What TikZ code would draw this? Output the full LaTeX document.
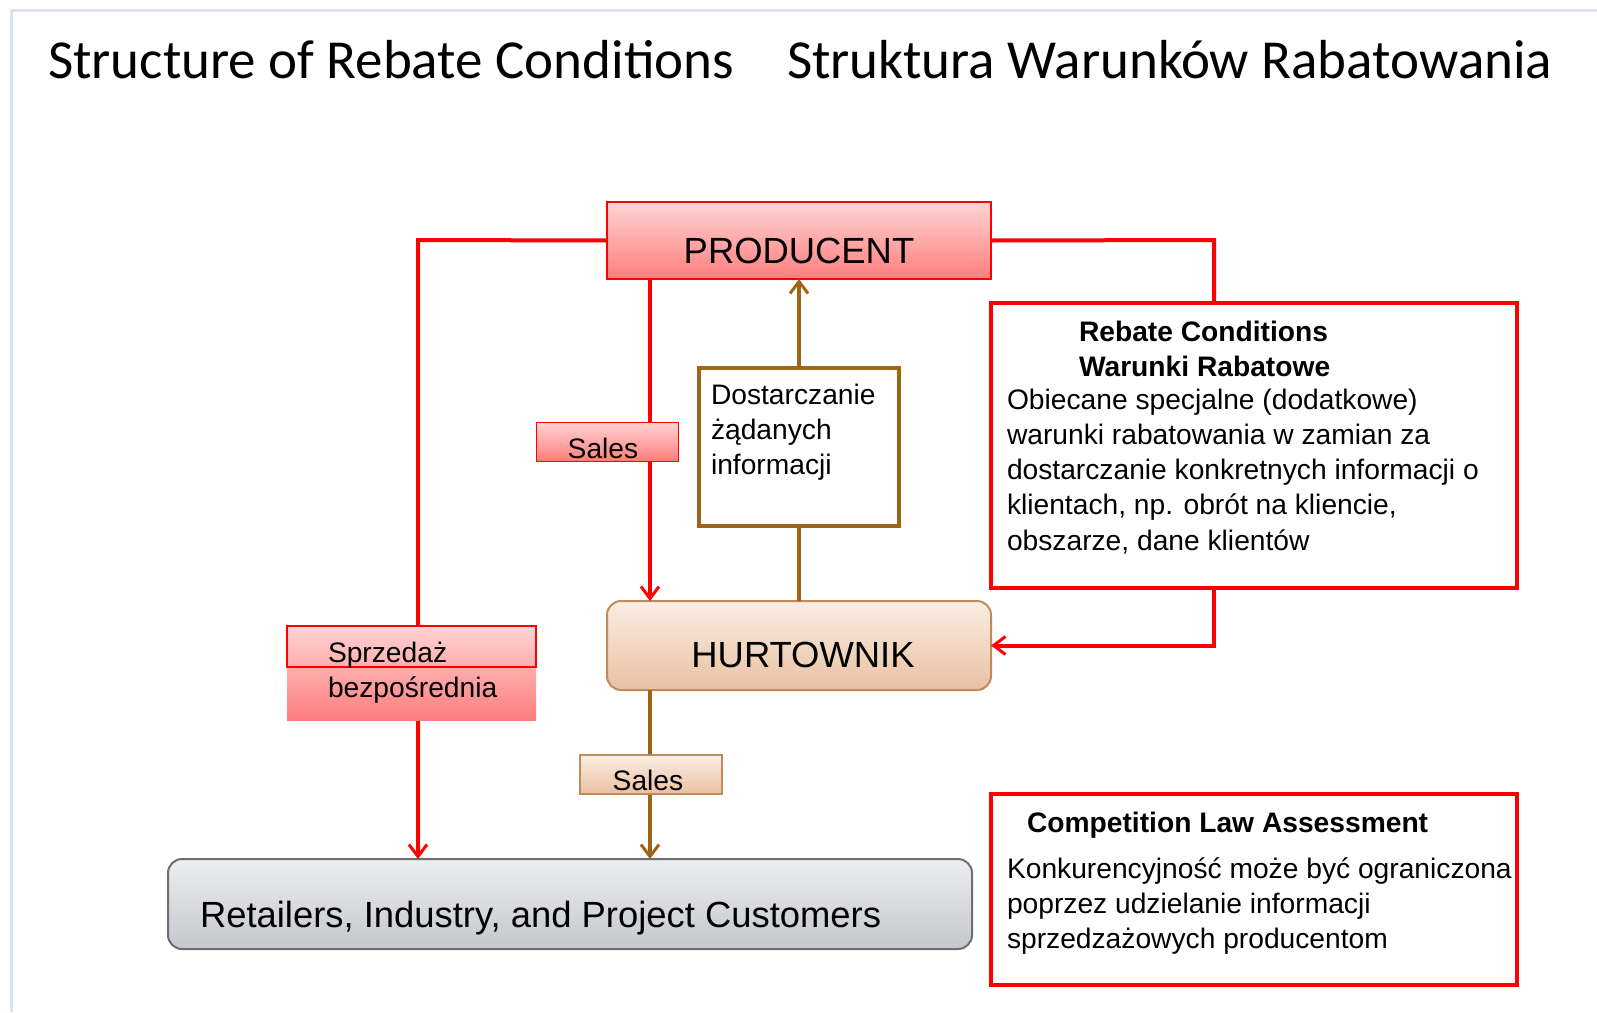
\documentclass[tikz,border=0pt]{standalone}
\usepackage{fontspec}
\setmainfont{Liberation Sans}
\newfontfamily\titlefont{Carlito}
\usetikzlibrary{arrows.meta}
\definecolor{rd}{RGB}{255,0,0}
\definecolor{br}{RGB}{158,102,20}
\definecolor{frame}{RGB}{218,227,243}
\definecolor{pinkT}{RGB}{255,212,212}
\definecolor{pinkB}{RGB}{255,125,125}
\definecolor{peachT}{RGB}{250,238,228}
\definecolor{peachB}{RGB}{234,192,162}
\definecolor{peachD}{RGB}{190,140,90}
\definecolor{grayT}{RGB}{237,238,241}
\definecolor{grayB}{RGB}{196,199,203}
\definecolor{grayD}{RGB}{110,110,110}
\begin{document}
\begin{tikzpicture}[x=1pt,y=-1pt,
  every node/.style={inner sep=0pt,outer sep=0pt},
  body/.style={font=\fontsize{28.2}{35.3}\selectfont,align=left},
  big/.style={font=\fontsize{36.4}{40}\selectfont},
  redln/.style={draw=rd,line width=4pt},
  brln/.style={draw=br,line width=4pt},
  tip/.style={-{Straight Barb[length=12pt,width=18pt,line width=3pt]}},
  pinkbox/.style={rectangle,top color=pinkT,bottom color=pinkB,draw=rd,line width=1.5pt},
  peachbox/.style={rectangle,top color=peachT,bottom color=peachB,draw=peachD,line width=2pt},
  infobox/.style={rectangle,fill=white,draw=rd,line width=4pt}]
\useasboundingbox (0,0) rectangle (1597,1012);
\fill[white] (0,0) rectangle (1597,1012);
\draw[frame,line width=3pt] (11,1012) -- (11,10) -- (1597,10);
% titles
\node[anchor=base west,font=\titlefont\fontsize{55}{66}\selectfont] (t1) at (48,78) {Structure of Rebate Conditions};
\node[anchor=base west,font=\titlefont\fontsize{55}{66}\selectfont] (t2) at (787,78) {Struktura Warunków Rabatowania};
% main boxes
\node[pinkbox,minimum width=384pt,minimum height=77pt] (prod) at (799,240.5) {};
\node[peachbox,rounded corners=14pt,minimum width=384pt,minimum height=89pt] (hurt) at (799,645.5) {};
\node[rectangle,rounded corners=14pt,top color=grayT,bottom color=grayB,draw=grayD,line width=2pt,minimum width=804pt,minimum height=90pt] (ret) at (570,904) {};
\node[infobox,minimum width=526pt,minimum height=285pt] (reb) at (1254,445.5) {};
\node[infobox,minimum width=526pt,minimum height=191pt] (comp) at (1254,889.5) {};
\node[rectangle,fill=white,draw=br,line width=3.5pt,minimum width=200pt,minimum height=158pt] (dost) at (799,447) {};
% connector corners
\coordinate (cl) at (418,240);
\coordinate (cr) at (1214,240);
\coordinate (cm) at (650,240);
% connectors
\draw[redln,tip] (prod.west) -- (cl) -- (cl |- ret.north);
\draw[redln] (prod.east) -- (cr) -- (cr |- reb.north);
\draw[redln,tip] (cr |- reb.south) -- (cr |- hurt.east) -- (hurt.east);
\draw[redln,tip] (cm |- prod.south) -- (cm |- hurt.north);
\draw[brln,tip] (dost.north) -- (prod.south -| dost.north);
\draw[brln] (dost.south) -- (hurt.north -| dost.south);
\draw[brln,tip] (cm |- hurt.south) -- (cm |- ret.north);
% labels on connectors
\node[pinkbox,line width=1pt,minimum width=142pt,minimum height=39pt] (s1) at (607,441.5) {};
\node[peachbox,line width=1.5pt,minimum width=142pt,minimum height=39pt] (s2) at (651,774.5) {};
\node[rectangle,top color=pinkT,bottom color=pinkB,minimum width=249pt,minimum height=94pt] (sp) at (411.5,673) {};
\node[rectangle,draw=rd,line width=1.5pt,minimum width=249pt,minimum height=41pt] (spb) at (411.5,646.5) {};
% texts
\node[big,anchor=base] (prodt) at (799,263) {PRODUCENT};
\node[big,anchor=base] (hurtt) at (803,667) {HURTOWNIK};
\node[big,anchor=base west] (rett) at (200,927) {Retailers, Industry, and Project Customers};
\node[body,anchor=base] (s1t) at (603,458) {Sales};
\node[body,anchor=base] (s2t) at (648,790) {Sales};
\node[body,anchor=base west] (spt) at (328,697.3) {Sprzedaż\\bezpośrednia};
\node[body,anchor=base west] (dostt) at (711,474.6) {Dostarczanie\\żądanych\\informacji};
\node[body,anchor=base west,font=\bfseries\fontsize{28.2}{35.3}\selectfont] (rebh) at (1079,376.3) {Rebate Conditions\\Warunki Rabatowe};
\node[body,anchor=base west] (rebt) at (1007,550.2) {Obiecane specjalne (dodatkowe)\\warunki rabatowania w zamian za\\dostarczanie konkretnych informacji o\\klientach, np. obrót na kliencie,\\obszarze, dane klientów};
\node[body,anchor=base west,font=\bfseries\fontsize{28.2}{35.3}\selectfont] (comph) at (1027,832) {Competition Law Assessment};
\node[body,anchor=base west] (compt) at (1007,948.6) {Konkurencyjność może być ograniczona\\poprzez udzielanie informacji\\sprzedzażowych producentom};
\end{tikzpicture}
\end{document}
